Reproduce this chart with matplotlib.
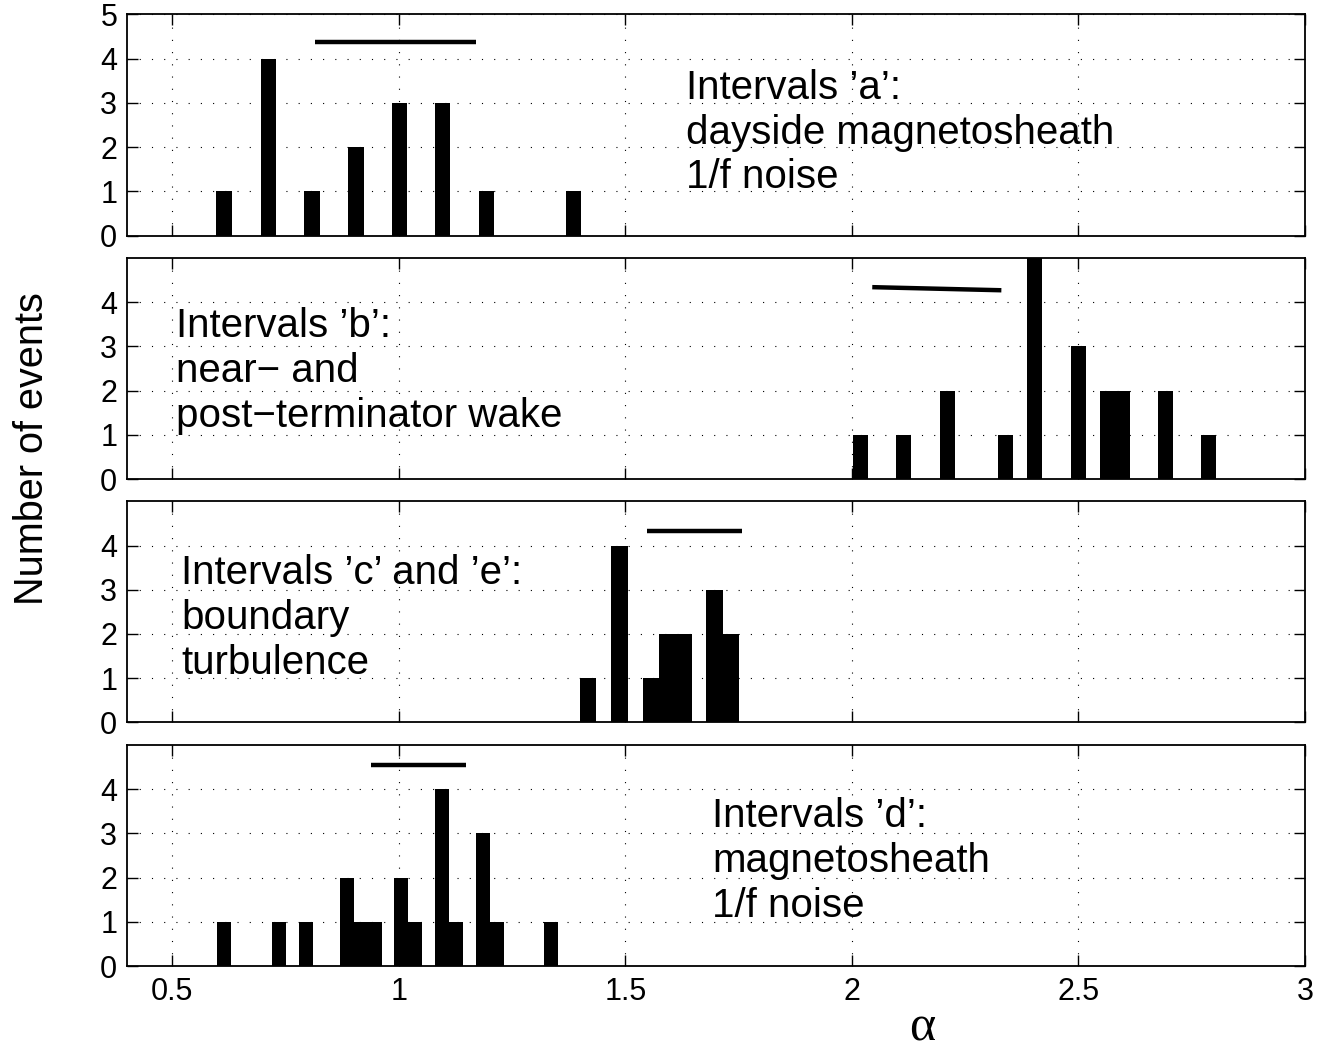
import matplotlib
matplotlib.use("Agg")
import matplotlib.pyplot as plt

plt.rcParams['font.family'] = ['Liberation Sans', 'DejaVu Sans']

# spectral slope histograms, one panel per interval group
alpha_a = [0.614, 0.712, 0.808, 0.905, 1.001, 1.097, 1.193, 1.385]
count_a = [1, 4, 1, 2, 3, 3, 1, 1]

alpha_b = [2.019, 2.115, 2.212, 2.339, 2.403, 2.500, 2.564, 2.597, 2.692, 2.788]
count_b = [1, 1, 2, 1, 5, 3, 2, 2, 2, 1]

alpha_ce = [1.418, 1.487, 1.557, 1.593, 1.629, 1.697, 1.733]
count_ce = [1, 4, 1, 2, 2, 3, 2]

alpha_d = [0.615, 0.735, 0.796, 0.885, 0.916, 0.947, 1.005, 1.036,
           1.096, 1.127, 1.186, 1.216, 1.335]
count_d = [1, 1, 1, 2, 1, 1, 2, 1, 4, 1, 3, 1, 1]

# range bars drawn above each histogram: (x0, x1), (y0, y1)
range_a = ([0.816, 1.171], [4.37, 4.37])
range_b = ([2.045, 2.330], [4.34, 4.27])
range_ce = ([1.548, 1.758], [4.33, 4.33])
range_d = ([0.938, 1.148], [4.54, 4.54])

labels = [
    "Intervals \u2019a\u2019:\ndayside magnetosheath\n1/f noise",
    "Intervals \u2019b\u2019:\nnear\u2212 and\npost\u2212terminator wake",
    "Intervals \u2019c\u2019 and \u2019e\u2019:\nboundary\nturbulence",
    "Intervals \u2019d\u2019:\nmagnetosheath\n1/f noise",
]
# left edge and last-line baseline of each label
label_pos = [(1.634, 1.066), (0.508, 1.186), (0.52, 1.106), (1.692, 1.116)]

panels = [
    (alpha_a, count_a, range_a, 0.034),
    (alpha_b, count_b, range_b, 0.033),
    (alpha_ce, count_ce, range_ce, 0.036),
    (alpha_d, count_d, range_d, 0.031),
]

fig = plt.figure(figsize=(13.4, 10.5), dpi=100)
bottoms = [0.7757, 0.5438, 0.312, 0.080]
left, width, height = 0.0948, 0.879, 0.2105

for i, (xs, ns, rng, w) in enumerate(panels):
    ax = fig.add_axes([left, bottoms[i], width, height])
    ax.set_axisbelow(True)
    ax.bar(xs, ns, width=w, color='k', linewidth=0, zorder=3)
    ax.plot(rng[0], rng[1], color='k', lw=3.2, solid_capstyle='butt', zorder=4)

    ax.set_xlim(0.4, 3.0)
    ax.set_ylim(0, 5)
    ax.set_xticks([0.5, 1, 1.5, 2, 2.5, 3])
    ax.set_xticklabels(['0.5', '1', '1.5', '2', '2.5', '3'])
    if i == 0:
        ax.set_yticks([0, 1, 2, 3, 4, 5])
    else:
        ax.set_yticks([0, 1, 2, 3, 4])

    ax.grid(True, color='k', lw=0.8, linestyle=(0, (1, 10)))
    ax.tick_params(direction='in', length=8, width=1.0, top=True, right=True,
                   labelsize=22, colors='k')
    ax.tick_params(axis='y', pad=7)
    ax.tick_params(axis='x', pad=8, labelbottom=(i == 3))
    for sp in ax.spines.values():
        sp.set_linewidth(1.3)

    tx, ty = label_pos[i]
    ax.text(tx, ty, labels[i], fontsize=29, ha='left', va='baseline',
            linespacing=1.22)

fig.text(0.024, 0.573, 'Number of events', rotation=90, fontsize=28.5,
         ha='center', va='center')
fig.text(0.688, 0.0095, '\u03b1', fontsize=36, ha='center', va='baseline',
         family=['Liberation Serif', 'DejaVu Serif'])

fig.savefig('out.png', dpi=100, facecolor='white')
